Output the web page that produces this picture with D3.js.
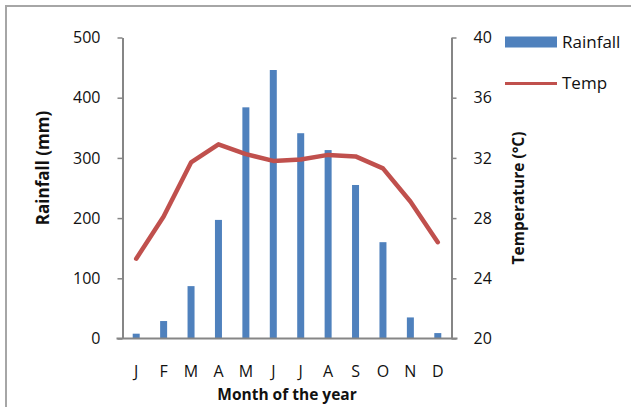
<!DOCTYPE html>
<html>
<head>
<meta charset="utf-8">
<script src="https://cdn.jsdelivr.net/npm/d3@7"></script>
<style>
  html, body { margin: 0; padding: 0; background: #fff; }
  svg { display: block; font-family: "Open Sans", sans-serif; }
</style>
</head>
<body>
<div id="chart"></div>
<script>
const months = ["J", "F", "M", "A", "M", "J", "J", "A", "S", "O", "N", "D"];
const rainfall = [8, 29, 87, 197, 384, 446, 341, 313, 255, 160, 35, 9];
const temp = [25.3, 28.1, 31.7, 32.9, 32.25, 31.8, 31.9, 32.2, 32.1, 31.3, 29.1, 26.4];
const rainTicks = [0, 100, 200, 300, 400, 500];
const tempTicks = [20, 24, 28, 32, 36, 40];

const width = 631, height = 407;
const plot = { left: 122.5, right: 451.5, top: 37.5, bottom: 338.5 };
const axisColor = "#868686";

const svg = d3.select("#chart").append("svg")
  .attr("width", width)
  .attr("height", height);

// outer frame (only top and left edges are visible in the crop)
svg.append("path")
  .attr("d", `M6,${height} V6 H${width}`)
  .attr("fill", "none")
  .attr("stroke", "#a6a6a6")
  .attr("stroke-width", 2);

const x = d3.scaleBand()
  .domain(d3.range(months.length))
  .range([plot.left, plot.right]);

const yRain = d3.scaleLinear().domain([0, 500]).range([plot.bottom, plot.top]);
const yTemp = d3.scaleLinear().domain([20, 40]).range([plot.bottom, plot.top]);

// bars
const barW = 7;
svg.selectAll(".bar")
  .data(rainfall)
  .enter()
  .append("rect")
  .attr("class", "bar")
  .attr("x", (d, i) => x(i) + x.bandwidth() / 2 - barW / 2)
  .attr("y", d => yRain(d))
  .attr("width", barW)
  .attr("height", d => yRain(0) - yRain(d))
  .attr("fill", "#4F81BD");

// left axis
const leftAxis = svg.append("g")
  .attr("transform", `translate(${plot.left},0)`)
  .call(d3.axisLeft(yRain).tickValues(rainTicks).tickSize(5).tickPadding(17).tickSizeOuter(0));

// right axis
const rightAxis = svg.append("g")
  .attr("transform", `translate(${plot.right},0)`)
  .call(d3.axisRight(yTemp).tickValues(tempTicks).tickSize(5).tickPadding(17).tickSizeOuter(0));

[leftAxis, rightAxis].forEach(g => {
  g.select(".domain").attr("stroke", axisColor).attr("stroke-width", 2);
  g.selectAll(".tick line").attr("stroke", axisColor).attr("stroke-width", 1.5);
  g.selectAll(".tick text")
    .attr("font-size", "16px")
    .attr("font-family", "Open Sans, sans-serif")
    .attr("fill", "#111");
});

// bottom axis
const bottomAxis = svg.append("g")
  .attr("transform", `translate(0,${plot.bottom})`)
  .call(d3.axisBottom(x).tickFormat(i => months[i]).tickSize(0).tickPadding(27));
bottomAxis.select(".domain")
  .attr("d", `M${plot.left - 6},0H${plot.right + 6}`)
  .attr("stroke", axisColor)
  .attr("stroke-width", 2);
bottomAxis.selectAll(".tick text")
  .attr("font-size", "16px")
  .attr("font-family", "Open Sans, sans-serif")
  .attr("fill", "#111");

// temperature line
const line = d3.line()
  .x((d, i) => x(i) + x.bandwidth() / 2)
  .y(d => yTemp(d));

svg.append("path")
  .datum(temp)
  .attr("d", line)
  .attr("fill", "none")
  .attr("stroke", "#C0504D")
  .attr("stroke-width", 4.5)
  .attr("stroke-linejoin", "round")
  .attr("stroke-linecap", "round");

// axis titles
svg.append("text")
  .attr("transform", "translate(49,168) rotate(-90)")
  .attr("text-anchor", "middle")
  .attr("font-size", "17px")
  .attr("font-weight", "bold")
  .attr("fill", "#111")
  .text("Rainfall (mm)");

svg.append("text")
  .attr("transform", "translate(524,198) rotate(-90)")
  .attr("text-anchor", "middle")
  .attr("font-size", "15.5px")
  .attr("font-weight", "bold")
  .attr("fill", "#111")
  .text("Temperature (°C)");

svg.append("text")
  .attr("x", (plot.left + plot.right) / 2)
  .attr("y", 400)
  .attr("text-anchor", "middle")
  .attr("font-size", "15.5px")
  .attr("font-weight", "bold")
  .attr("fill", "#111")
  .text("Month of the year");

// legend
const legend = svg.append("g");
legend.append("rect")
  .attr("x", 505).attr("y", 36.5)
  .attr("width", 52).attr("height", 11)
  .attr("fill", "#4F81BD");
legend.append("text")
  .attr("x", 562).attr("y", 48)
  .attr("font-size", "17px")
  .attr("fill", "#111")
  .text("Rainfall");
legend.append("line")
  .attr("x1", 505).attr("x2", 557)
  .attr("y1", 83.5).attr("y2", 83.5)
  .attr("stroke", "#C0504D")
  .attr("stroke-width", 3);
legend.append("text")
  .attr("x", 562).attr("y", 89)
  .attr("font-size", "17px")
  .attr("fill", "#111")
  .text("Temp");
</script>
</body>
</html>
